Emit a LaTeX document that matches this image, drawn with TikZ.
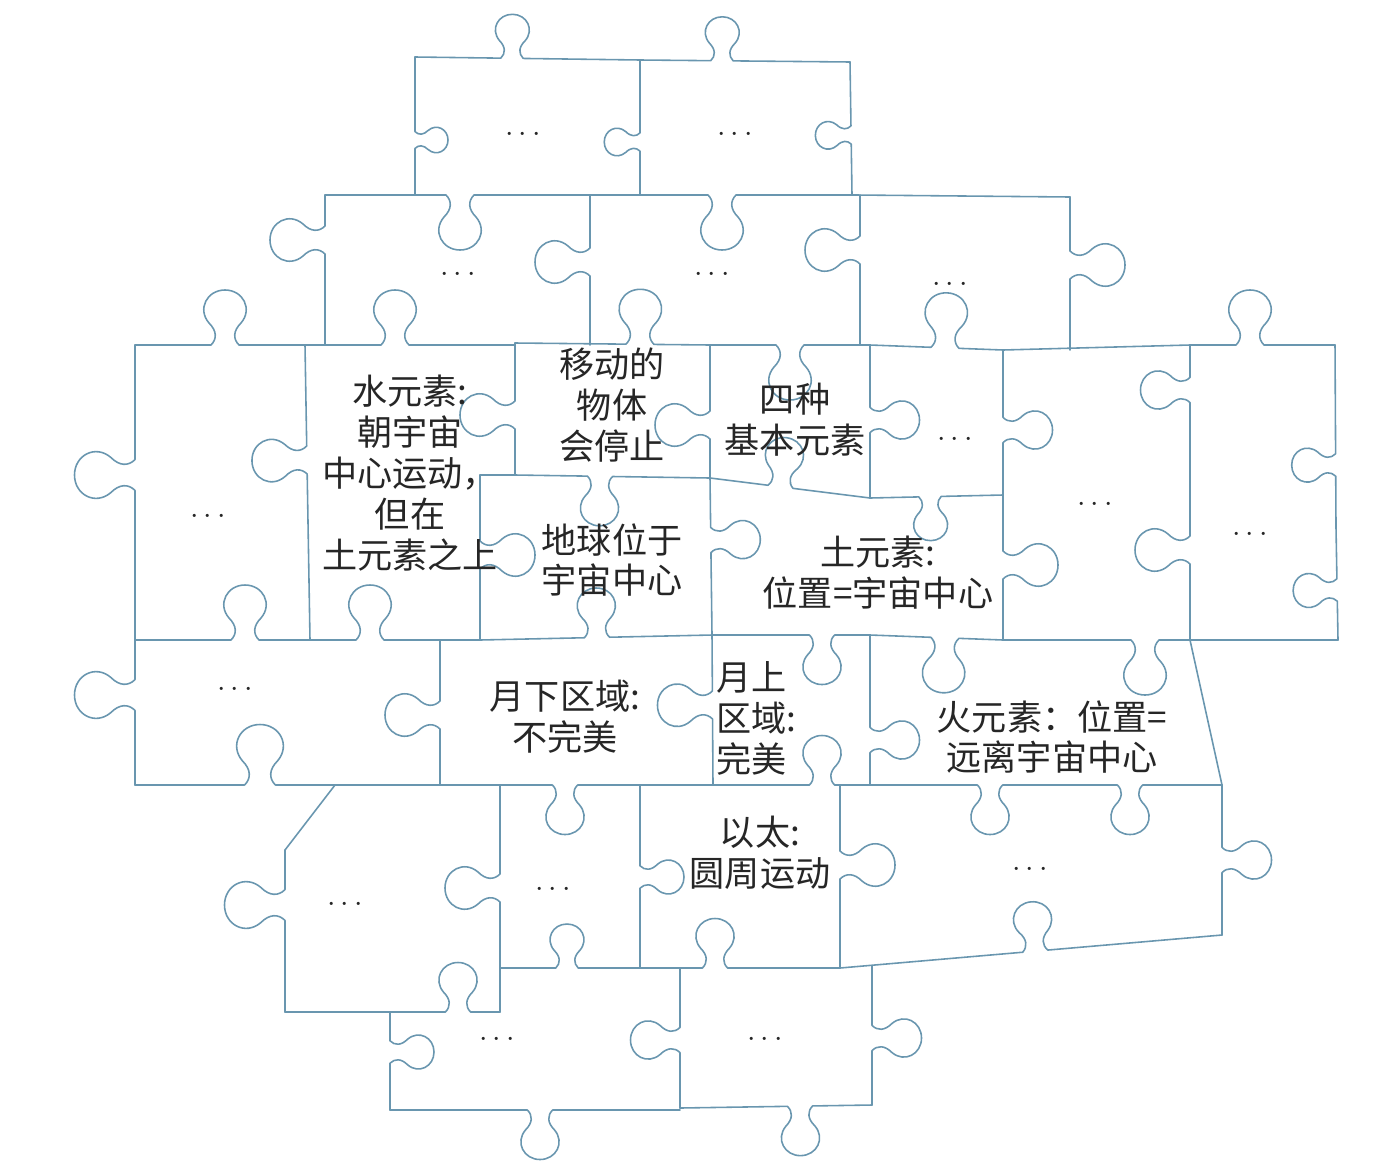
\documentclass[tikz,border=0pt]{standalone}
\usepackage{fontspec}
\newfontfamily\cjk{Noto Sans CJK SC}
\definecolor{edgeblue}{RGB}{105,150,175}

% one puzzle edge from (#1,#2) to (#3,#4), knob at distance #5 from the start,
% #6 = side (+ right of travel, - left) and size of the knob
\newcommand\jedge[6]{%
  \pgfmathsetmacro\jlen{veclen(#3-#1,#4-#2)}%
  \pgfmathsetmacro\jang{atan2(#2-#4,#3-#1)}%
  \pgfmathsetmacro\jsz{abs(#6)}%
  \begin{scope}[shift={(#1,#2)},rotate=\jang]
    \draw[piece] (0,0) -- ({#5-14*\jsz},0)
      .. controls ({#5-8*\jsz},{6*(#6)}) and ({#5-8*\jsz},{14*(#6)}) .. ({#5-16*\jsz},{22*(#6)})
      .. controls ({#5-28*\jsz},{36*(#6)}) and ({#5-18*\jsz},{55*(#6)}) .. ({#5},{55*(#6)})
      .. controls ({#5+18*\jsz},{55*(#6)}) and ({#5+28*\jsz},{36*(#6)}) .. ({#5+16*\jsz},{22*(#6)})
      .. controls ({#5+8*\jsz},{14*(#6)}) and ({#5+8*\jsz},{6*(#6)}) .. ({#5+14*\jsz},0)
      -- (\jlen,0);
  \end{scope}}

\begin{document}
\begin{tikzpicture}[
    x=0.02cm, y=-0.02cm,
    piece/.style={draw=edgeblue, line width=0.9pt, line cap=round, line join=round},
    lbl/.style={font=\cjk\fontsize{20}{23.3}\selectfont, align=center, inner sep=0pt, text=black!85},
    dots/.style={font=\fontsize{18}{20}\selectfont, inner sep=0pt, text=black!85}
  ]
  \useasboundingbox (0,0) rectangle (1378,1170);

  % top row
  \jedge{415}{57}{640}{60}{97}{-0.8}
  \jedge{640}{60}{850}{62}{82}{-0.8}
  \jedge{415}{57}{415}{195}{83}{-0.6}
  \jedge{640}{60}{640}{195}{82}{0.65}
  \jedge{850}{62}{852}{195}{73}{0.65}
  \draw[piece] (325,195) -- (415,195);
  \jedge{415}{195}{640}{195}{45}{1}
  \jedge{640}{195}{855}{195}{82}{1}
  \draw[piece] (855,195) -- (1070,197);

  % second row
  \jedge{325}{195}{325}{345}{45}{1}
  \jedge{590}{195}{590}{345}{67}{1}
  \jedge{860}{195}{860}{345}{55}{1}
  \jedge{1070}{197}{1070}{350}{68}{-1}
  \jedge{135}{345}{305}{345}{90}{-1}
  \jedge{305}{345}{515}{345}{90}{-1}
  \jedge{515}{343}{710}{345}{125}{-1}
  \jedge{710}{345}{870}{345}{80}{1}
  \jedge{870}{345}{1003}{350}{75}{-1}
  \draw[piece] (1003,350) -- (1190,345);

  % middle row
  \jedge{135}{345}{135}{640}{130}{1.1}
  \jedge{305}{345}{310}{640}{115}{1}
  \jedge{515}{343}{515}{475}{72}{1}
  \draw[piece] (480,475) -- (515,475);
  \jedge{480}{475}{480}{640}{80}{-1}
  \jedge{515}{475}{710}{478}{85}{0.9}
  \jedge{710}{345}{710}{478}{80}{1}
  \jedge{710}{478}{712}{635}{62}{-0.9}
  \jedge{710}{478}{870}{498}{71}{-0.9}
  \jedge{870}{345}{870}{498}{75}{-0.9}
  \jedge{870}{498}{1003}{495}{60}{0.8}
  \jedge{1003}{350}{1003}{495}{80}{-0.9}
  \jedge{1003}{495}{1003}{640}{70}{-1}
  \jedge{712}{635}{870}{635}{110}{0.9}
  \jedge{870}{635}{1003}{640}{75}{1}
  \jedge{1003}{640}{1190}{640}{142}{1}
  \jedge{1190}{345}{1190}{465}{45}{0.9}
  \jedge{1190}{465}{1190}{640}{85}{1}
  \jedge{1190}{345}{1335}{345}{60}{-1}
  \jedge{1335}{345}{1336}{528}{120}{0.8}
  \jedge{1336}{528}{1338}{640}{62}{0.8}
  \draw[piece] (1190,640) -- (1338,640);
  \jedge{135}{640}{305}{640}{110}{-1}
  \jedge{305}{640}{480}{640}{65}{-1}
  \jedge{480}{640}{712}{635}{117}{-0.9}

  % fourth row
  \jedge{135}{640}{135}{785}{55}{1.1}
  \jedge{440}{640}{440}{785}{75}{1}
  \jedge{712}{635}{713}{785}{70}{1}
  \jedge{870}{635}{870}{785}{105}{-0.9}
  \draw[piece] (1190,640) -- (1222,785);
  \jedge{135}{785}{335}{785}{125}{-1.1}
  \draw[piece] (335,785) -- (440,785);
  \jedge{440}{785}{640}{785}{125}{0.9}
  \draw[piece] (640,785) -- (713,785);
  \jedge{713}{785}{870}{785}{109}{-0.9}
  \jedge{870}{785}{1060}{785}{120}{0.9}
  \jedge{1060}{785}{1222}{785}{70}{0.9}

  % bottom rows
  \draw[piece] (335,785) -- (285,850);
  \jedge{285}{850}{285}{1012}{55}{1.1}
  \jedge{500}{785}{500}{1012}{103}{1}
  \jedge{640}{785}{640}{968}{92}{-0.8}
  \jedge{840}{785}{840}{968}{80}{-1}
  \jedge{1222}{785}{1222}{935}{75}{-0.9}
  \draw[piece] (285,1012) -- (390,1012);
  \jedge{390}{1012}{500}{1012}{68}{-0.9}
  \jedge{500}{968}{640}{968}{67}{-0.8}
  \jedge{640}{968}{840}{968}{75}{-0.9}
  \jedge{840}{968}{1222}{935}{196}{-0.9}
  \jedge{390}{1012}{390}{1110}{40}{-0.8}
  \jedge{390}{1110}{680}{1110}{150}{0.9}
  \jedge{680}{968}{680}{1108}{72}{0.9}
  \jedge{680}{1108}{872}{1105}{120}{0.9}
  \jedge{872}{966}{872}{1105}{72}{-0.9}

  \node[dots] (a) at (523,135) {$\cdots$};
  \node[dots] (b) at (735,135) {$\cdots$};
  \node[dots] (c) at (458,275) {$\cdots$};
  \node[dots] (d) at (712,275) {$\cdots$};
  \node[dots] (e) at (950,285) {$\cdots$};
  \node[dots] (f) at (208,517) {$\cdots$};
  \node[lbl] (water) at (410,473) {水元素:\\朝宇宙\\中心运动，\\但在\\土元素之上};
  \node[lbl] (moving) at (612,405) {移动的\\物体\\会停止};
  \node[lbl] (four) at (795,420) {四种\\基本元素};
  \node[dots] (n) at (955,440) {$\cdots$};
  \node[dots] (p) at (1095,505) {$\cdots$};
  \node[dots] (q) at (1250,535) {$\cdots$};
  \node[lbl] (earth) at (612,560) {地球位于\\宇宙中心};
  \node[lbl] (soil) at (878,573) {土元素:\\位置=宇宙中心};
  \node[dots] (g) at (235,690) {$\cdots$};
  \node[lbl] (sublunar) at (565,717) {月下区域:\\不完美};
  \node[lbl, align=left, anchor=west] (superlunar) at (716,718) {月上\\区域:\\完美};
  \node[lbl] (fire) at (1052,737) {火元素：位置=\\远离宇宙中心};
  \node[dots] (h) at (345,905) {$\cdots$};
  \node[dots] (j) at (553,890) {$\cdots$};
  \node[lbl] (ether) at (760,853) {以太:\\圆周运动};
  \node[dots] (r) at (1030,870) {$\cdots$};
  \node[dots] (i) at (497,1040) {$\cdots$};
  \node[dots] (k) at (765,1040) {$\cdots$};
\end{tikzpicture}
\end{document}
